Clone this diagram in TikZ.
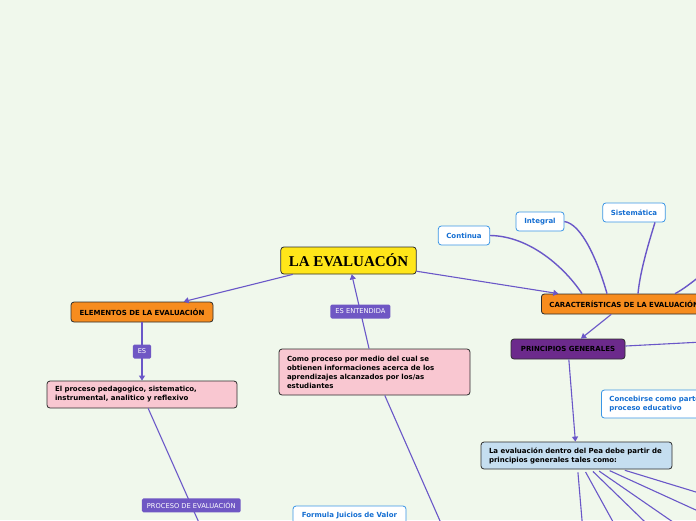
\documentclass[tikz,border=0pt]{standalone}
\usepackage{fontspec}
\setmainfont{DejaVu Sans}
\newfontfamily\titlefont{Liberation Serif}
\usetikzlibrary{arrows.meta}

\begin{document}
\begin{tikzpicture}[x=1pt,y=-1pt,
  topic/.style={draw=cedge,line width=0.8pt,rounded corners=3pt,
    font=\fontsize{7}{9}\selectfont\bfseries,inner xsep=8pt,inner ysep=0pt,
    minimum height=20pt},
  note/.style={topic,align=left,minimum height=27pt},
  leaf/.style={draw=cleafline,fill=white,text=cleaftext,line width=0.8pt,
    rounded corners=3pt,font=\fontsize{7}{9}\selectfont\bfseries,
    inner xsep=8pt,inner ysep=0pt,minimum height=19pt},
  tag/.style={fill=ctag,text=white,rounded corners=1.5pt,
    font=\fontsize{6.7}{7}\selectfont,inner xsep=5pt,inner ysep=0pt,minimum height=14pt},
  link/.style={draw=clink,line width=1.1pt},
  arr/.style={-{Triangle[length=5pt,width=6pt]}}]
\definecolor{cbg}{RGB}{240,248,236}\definecolor{cedge}{RGB}{45,45,45}
\definecolor{cyel}{RGB}{255,230,25}\definecolor{corange}{RGB}{247,140,30}
\definecolor{cpink}{RGB}{249,199,209}\definecolor{cblue}{RGB}{197,222,240}
\definecolor{cdpurple}{RGB}{108,42,140}\definecolor{ctag}{RGB}{111,87,196}
\definecolor{clink}{RGB}{106,87,200}\definecolor{cleafline}{RGB}{59,150,230}
\definecolor{cleaftext}{RGB}{20,110,210}

\useasboundingbox (0,0) rectangle (696,520);
\clip (0,0) rectangle (696,520);
\fill[cbg] (0,0) rectangle (696,520);

% --- far ends of branches leaving the picture ---
\coordinate (procend) at (220,570);
\coordinate (comoend) at (461.6,570);
\coordinate (princend) at (760,339);
\coordinate (caracup) at (760,230);
\coordinate (f1) at (585.4,560);
\coordinate (f2) at (634,560);
\coordinate (f3) at (684.2,560);
\coordinate (f4) at (728,560);
\coordinate (f5) at (760,539.3);
\coordinate (f6) at (760,511.6);

% --- main topic ---
\node[topic,fill=cyel,font=\titlefont\fontsize{15}{16}\selectfont\bfseries,
  minimum width=135pt,minimum height=27pt] (title) at (348.5,260.5) {LA EVALUACÓN};

% --- left branch ---
\node[topic,fill=corange,minimum width=142pt] (elem) at (142,312) {ELEMENTOS DE LA EVALUACIÓN};
\node[note,fill=cpink,text width=174pt] (pedag) at (142,394.5)
  {El proceso pedagogico, sistematico,\\instrumental, analitico y reflexivo};

% --- middle branch ---
\node[note,fill=cpink,text width=175pt,minimum height=46pt] (como) at (374.5,372)
  {Como proceso por medio del cual se\\obtienen informaciones acerca de los\\aprendizajes alcanzados por los/as\\estudiantes};
\node[leaf,minimum width=113pt,minimum height=20pt] (formula) at (349.5,516) {Formula Juicios de Valor};

% --- right branch ---
\node[topic,fill=corange,anchor=west] (carac) at (541,304) {CARACTERÍSTICAS DE LA EVALUACIÓN};
\node[leaf,minimum width=50pt] (continua) at (464,235.5) {Continua};
\node[leaf,minimum width=48pt] (integral) at (540,221.5) {Integral};
\node[leaf,minimum width=62pt] (sistem) at (634,212.5) {Sistemática};
\node[topic,fill=cdpurple,minimum width=114pt] (princ) at (568,349) {PRINCIPIOS GENERALES};
\node[leaf,anchor=west,align=left,minimum height=28pt] (concebir) at (601,404)
  {Concebirse como parte\\proceso educativo};
\node[note,fill=cblue,text width=175pt] (laeval) at (576.5,455.5)
  {La evaluación dentro del Pea debe partir de\\principios generales tales como:};

% --- connectors ---
\draw[link,arr] (title) -- (elem);
\draw[link,arr] (title) -- (carac);
\draw[link,arr] (como) -- node[tag] (entendida) {ES ENTENDIDA} (title);
\draw[link,arr] (elem) -- node[tag] (es) {ES} (pedag);
\draw[link] (pedag) -- node[tag,pos=0.6] (procev) {PROCESO DE EVALUACIÓN} (procend);
\draw[link] (como) -- (comoend);
\draw[link,arr] (carac) -- (princ);
\draw[link,arr] (princ) -- (laeval);
\draw[link] (princ) -- (princend);

% --- curved links to the characteristics ---
\draw[link,line width=1.4pt] (continua.east) .. controls (530,236) and (565,268) .. ([xshift=41pt]carac.north west);
\draw[link,line width=1.4pt] (integral.east) .. controls (582,224) and (598,262) .. ([xshift=66pt]carac.north west);
\draw[link,line width=1.4pt] ([xshift=21pt]sistem.south) .. controls (648,245) and (640,272) .. ([xshift=97pt]carac.north west);
\draw[link,line width=1.4pt] (caracup) .. controls (708,268) and (690,286) .. ([xshift=134pt]carac.north west);

% --- fan of principles ---
\foreach \e in {f1,f2,f3,f4,f5,f6}
  \draw[link,shorten <=3pt] (laeval) -- (\e);
\end{tikzpicture}
\end{document}
